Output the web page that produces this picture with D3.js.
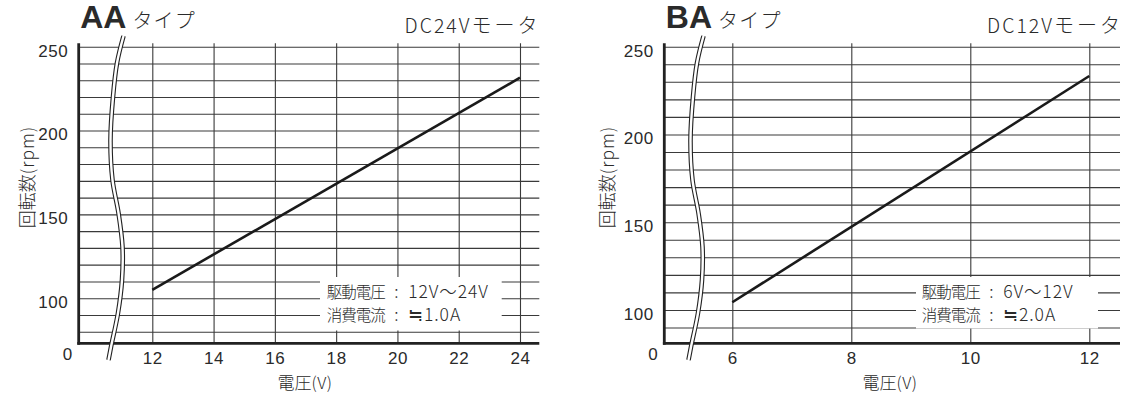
<!DOCTYPE html>
<html><head><meta charset="utf-8">
<script src="https://cdn.jsdelivr.net/npm/d3@7"></script>
<style>
body{margin:0;background:#fff}
svg{display:block}
text{font-family:"Liberation Sans","Noto Sans CJK JP",sans-serif;fill:#2a2a2a}
.jp{font-family:"Noto Sans CJK JP",sans-serif;font-weight:300}
.lat{font-family:"Liberation Sans",sans-serif;font-weight:400}
</style>
</head><body>
<svg id="c" width="1123" height="396"></svg>
<script>
// ---- data ----
const aaVoltage = [12, 24];
const aaRpm = [105, 231.5];
const baVoltage = [6, 12];
const baRpm = [104.4, 233.3];
const aaXTicks = [12, 14, 16, 18, 20, 22, 24];
const baXTicks = [6, 8, 10, 12];
const yTickLabels = [100, 150, 200, 250];
const yZeroLabel = "0";
const legendLabels = ["駆動電圧", "消費電流"];
const aaLegendValues = ["12V〜24V", "≒1.0A"];
const baLegendValues = ["6V〜12V", "≒2.0A"];
const typeLabel = "タイプ";
const motorWord = "モータ";
const yTitleJp = "回転数", yTitleUnit = "(rpm)";
const xTitleJp = "電圧", xTitleUnit = "(V)";

// ---- layout ----
const yTopPx = 46.7, yAxisPx = 343.3, yMax = 250;
const squiggleDx = [0, -6.5, -10.5, -13, -11, -5, -1, -1.5, -5.5, -12.5, -15];
const squiggleY = [36, 63, 97, 140, 180, 213, 247, 280, 313, 347, 360];

const charts = [
  {title: "AA", motor: "DC24V", volts: aaVoltage, rpm: aaRpm, xTicks: aaXTicks, legendValues: aaLegendValues,
   xDomain: [9.598, 24.63], yMin: 73.1, x0: 78.7, x1: 539.3, breakX: 123.5,
   box: [320, 277, 501.7, 330.5], legendX: 326.7, yTitleX: 33.5, xTitleX: 305, motorRight: 537.5},
  {title: "BA", motor: "DC12V", volts: baVoltage, rpm: baRpm, xTicks: baXTicks, legendValues: baLegendValues,
   xDomain: [4.857, 12.516], yMin: 81.0, x0: 664.3, x1: 1120, breakX: 703.5,
   box: [916, 277, 1098, 328.5], legendX: 921.7, yTitleX: 614, xTitleX: 890, motorRight: 1120}
];

const svg = d3.select("#c");

charts.forEach(c => {
  const g = svg.append("g");
  const x = d3.scaleLinear().domain(c.xDomain).range([c.x0, c.x1]);
  const y = d3.scaleLinear().domain([c.yMin, yMax]).range([yAxisPx, yTopPx]);
  const gridVals = d3.range(Math.ceil(c.yMin / 10) * 10, yMax + 1, 10);

  // horizontal grid + y labels
  const yAx = d3.axisLeft(y).tickValues(gridVals)
    .tickSize(-(c.x1 - c.x0)).tickPadding(10.4)
    .tickFormat(d => yTickLabels.includes(d) ? d : "");
  const gy = g.append("g").attr("transform", `translate(${c.x0},0)`).call(yAx);
  gy.attr("font-family", null);
  gy.select(".domain").remove();
  gy.selectAll("line").attr("stroke", "#3a3a3a").attr("stroke-width", 1.1);
  gy.selectAll("text").attr("font-size", 17).attr("dy", "0.55em").style("letter-spacing", "0.6px").attr("fill", "#333");

  // vertical grid + x labels
  const xAx = d3.axisBottom(x).tickValues(c.xTicks)
    .tickSize(-(yAxisPx - yTopPx + 3.4)).tickPadding(9);
  const gx = g.append("g").attr("transform", `translate(0,${yAxisPx})`).call(xAx);
  gx.attr("font-family", null);
  gx.select(".domain").remove();
  gx.selectAll("line").attr("stroke", "#3a3a3a").attr("stroke-width", 1.1);
  gx.selectAll("text").attr("font-size", 17).style("letter-spacing", "0.6px").attr("fill", "#333");

  // data line
  const pts = c.volts.map((v, i) => [v, c.rpm[i]]);
  g.append("path").datum(pts)
    .attr("d", d3.line().x(d => x(d[0])).y(d => y(d[1])))
    .attr("fill", "none").attr("stroke", "#1a1a1a").attr("stroke-width", 2.6);

  // legend box
  g.append("rect").attr("x", c.box[0]).attr("y", c.box[1])
    .attr("width", c.box[2] - c.box[0]).attr("height", c.box[3] - c.box[1]).attr("fill", "#fff");
  legendLabels.forEach((lab, i) => {
    const yy = 297.5 + i * 23.8;
    const t = g.append("text").attr("y", yy).attr("fill", "#333");
    t.append("tspan").attr("class", "jp").attr("x", c.legendX).attr("font-size", 15.5)
      .style("letter-spacing", "-1px").text(lab);
    t.append("tspan").attr("class", "jp").attr("x", c.legendX + 67.5).attr("font-size", 17).text(":");
    t.append("tspan").attr("class", "jp").attr("x", c.legendX + 81.5).attr("font-size", 17.5)
      .style("letter-spacing", "0.9px").text(c.legendValues[i]);
  });

  // axes lines
  g.append("line").attr("x1", c.x0).attr("x2", c.x0).attr("y1", yTopPx - 3.4).attr("y2", yAxisPx + 1.4)
    .attr("stroke", "#222").attr("stroke-width", 2.8);
  g.append("line").attr("x1", c.x0 - 1.4).attr("x2", c.x1).attr("y1", yAxisPx).attr("y2", yAxisPx)
    .attr("stroke", "#222").attr("stroke-width", 2.8);

  // axis break squiggle
  const sq = squiggleDx.map((dx, i) => [c.breakX + dx, squiggleY[i]]);
  const sline = d3.line().curve(d3.curveCatmullRom);
  g.append("path").attr("d", sline(sq)).attr("fill", "none").attr("stroke", "#222").attr("stroke-width", 4.6);
  g.append("path").attr("d", sline(sq)).attr("fill", "none").attr("stroke", "#fff").attr("stroke-width", 2.4);

  // zero label
  g.append("text").attr("class", "lat").attr("x", c.x0 - 6.5).attr("y", 360).attr("text-anchor", "end")
    .attr("font-size", 17).attr("fill", "#333").text(yZeroLabel);

  // titles
  const tt = g.append("text").attr("x", c.x0 + 1.5).attr("y", 28.3)
    .attr("font-size", 32).style("font-weight", "bold").attr("fill", "#1e1e1e").text(c.title);
  const tw = tt.node().getComputedTextLength();
  g.append("text").attr("class", "jp").attr("x", c.x0 + 1.5 + tw + 6).attr("y", 27.5)
    .attr("font-size", 20).style("letter-spacing", "1.2px").attr("fill", "#333").text(typeLabel);

  const mt = g.append("text").attr("y", 33.3).attr("fill", "#333");
  mt.append("tspan").attr("class", "jp").attr("font-size", 19.5).style("letter-spacing", "2px").text(c.motor);
  mt.append("tspan").attr("class", "jp").attr("font-size", 20).style("letter-spacing", "3px").text(motorWord);
  const mw = mt.node().getComputedTextLength();
  mt.attr("x", c.motorRight - mw + 3);

  // axis titles
  const yt = g.append("text").attr("transform", `translate(${c.yTitleX},177) rotate(-90)`)
    .attr("text-anchor", "middle").attr("fill", "#333");
  yt.append("tspan").attr("class", "jp").attr("font-size", 18).text(yTitleJp);
  yt.append("tspan").attr("class", "jp").attr("font-size", 17.5).style("letter-spacing", "1px").text(yTitleUnit);

  const xt = g.append("text").attr("x", c.xTitleX).attr("y", 389).attr("text-anchor", "middle").attr("fill", "#333");
  xt.append("tspan").attr("class", "jp").attr("font-size", 17).text(xTitleJp);
  xt.append("tspan").attr("class", "jp").attr("font-size", 16.5).style("letter-spacing", "0.5px").text(xTitleUnit);
});
</script>
</body></html>
